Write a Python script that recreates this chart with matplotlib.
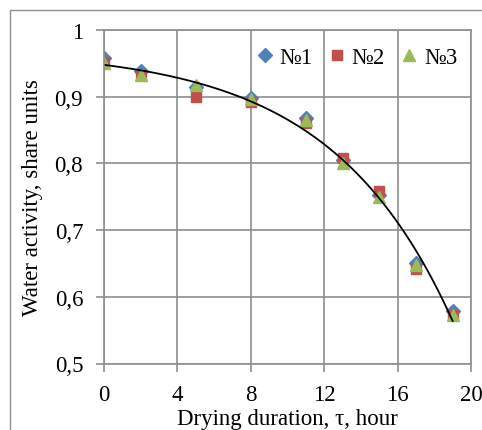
import numpy as np
import matplotlib
matplotlib.use('Agg')
import matplotlib.pyplot as plt
from matplotlib.patches import Rectangle

plt.rcParams['font.family'] = ['Liberation Serif', 'DejaVu Serif']

hours = [0, 2, 5, 8, 11, 13, 15, 17, 19]
aw_1 = [0.958, 0.938, 0.915, 0.898, 0.868, 0.805, 0.752, 0.650, 0.578]
aw_2 = [0.952, 0.932, 0.900, 0.892, 0.860, 0.808, 0.758, 0.642, 0.572]
aw_3 = [0.950, 0.932, 0.918, 0.897, 0.865, 0.800, 0.750, 0.648, 0.572]
series_names = ['№1', '№2', '№3']

grid_c = '#8e8e8e'

fig = plt.figure(figsize=(4.82, 4.31), dpi=100)
ax = fig.add_axes([104 / 482, 1 - 364.5 / 431, 367 / 482, 333.5 / 431])

# outer chart frame
fig.patches.append(Rectangle((10 / 482, -0.1), 1.2, 1 - 11 / 431 + 0.1,
                             transform=fig.transFigure, fill=False,
                             edgecolor=grid_c, lw=1.0))

ax.plot(hours, aw_1, 'D', color='#4F81BD', ms=7, label=series_names[0])
ax.plot(hours, aw_2, 's', color='#C0504D', ms=7.5, label=series_names[1])
ax.plot(hours, aw_3, '^', color='#9BBB59', ms=8.5, label=series_names[2])

# exponential-type trend: y = a - b*exp(c*x), fitted on all points
x_all = np.tile(hours, 3).astype(float)
y_all = np.concatenate([aw_1, aw_2, aw_3])
best = None
for c in np.linspace(0.05, 0.4, 351):
    A = np.column_stack([np.ones_like(x_all), -np.exp(c * x_all)])
    sol, res, *_ = np.linalg.lstsq(A, y_all, rcond=None)
    err = np.sum((A @ sol - y_all) ** 2)
    if best is None or err < best[0]:
        best = (err, c, sol)
_, c, (a, b) = best
xs = np.linspace(0, 19, 200)
ax.plot(xs, a - b * np.exp(c * xs), color='black', lw=1.3)

ax.set_xlim(0, 20)
ax.set_ylim(0.5, 1.0)
ax.set_xticks(range(0, 21, 4))
ax.set_yticks(np.arange(0.5, 1.01, 0.1))
ax.set_yticklabels(['0,5', '0,6', '0,7', '0,8', '0,9', '1'])
ax.grid(True, color=grid_c, lw=1.2)
ax.set_axisbelow(True)
for s in ax.spines.values():
    s.set_color(grid_c)
    s.set_linewidth(1.2)
ax.tick_params(direction='out', length=6, width=1.2, color=grid_c,
               labelsize=16.5, pad=9)

ax.set_xlabel('Drying duration, τ, hour', fontsize=16.5, labelpad=2)
ax.set_ylabel('Water activity, share units', fontsize=16.5, labelpad=8)

ax.legend(loc='upper right', bbox_to_anchor=(1.0, 0.99), ncol=3,
          frameon=False, fontsize=16.5, handletextpad=0.1,
          columnspacing=0.5, handlelength=1.1, borderaxespad=0.2)

fig.savefig('out.png', dpi=100)
